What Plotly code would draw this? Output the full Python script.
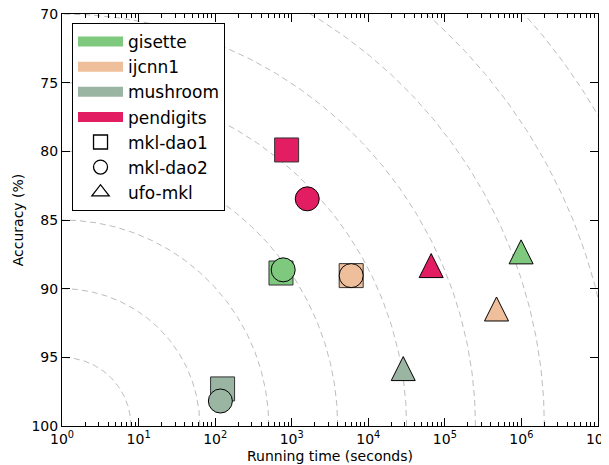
import numpy as np
import plotly.graph_objects as go

# ---- data ----
datasets = ["gisette", "ijcnn1", "mushroom", "pendigits"]
dataset_colors = ["#7fc97f", "#efbf9b", "#9bb5a3", "#e21d61"]
methods = ["mkl-dao1", "mkl-dao2", "ufo-mkl"]

time_dao1 = [724, 5980, 125, 858]
acc_dao1 = [88.86, 89.05, 97.3, 79.9]
time_dao2 = [774, 5980, 117, 1595]
acc_dao2 = [88.63, 89.05, 98.18, 83.46]
time_ufo = [991000, 473000, 28600, 66300]
acc_ufo = [87.32, 91.48, 95.82, 88.32]

x_tick_vals = [1, 10, 100, 1e3, 1e4, 1e5, 1e6, 1e7]
x_tick_text = ["10<sup>0</sup>", "10<sup>1</sup>", "10<sup>2</sup>", "10<sup>3</sup>",
               "10<sup>4</sup>", "10<sup>5</sup>", "10<sup>6</sup>", "10<sup>7</sup>"]
y_tick_vals = [70, 75, 80, 85, 90, 95, 100]

# guide arcs: step k -> (0.9k decades, 5k accuracy points)
arc_steps = list(range(1, 12))
arc_dx = 0.9
arc_dy = 5.0

font = "DejaVu Sans"
fig = go.Figure()

theta = np.linspace(0, np.pi / 2, 200)
for k in arc_steps:
    fig.add_trace(go.Scatter(
        x=10 ** (arc_dx * k * np.cos(theta)),
        y=100 - arc_dy * k * np.sin(theta),
        mode="lines", line=dict(color="#bdbdbd", width=1, dash="6px,4px"),
        showlegend=False, hoverinfo="skip"))

# data markers
fig.add_trace(go.Scatter(
    x=time_dao1, y=acc_dao1, mode="markers", showlegend=False, name="mkl-dao1",
    marker=dict(symbol="square", size=24, color=dataset_colors,
                line=dict(color="#333333", width=1))))
fig.add_trace(go.Scatter(
    x=time_dao2, y=acc_dao2, mode="markers", showlegend=False, name="mkl-dao2",
    marker=dict(symbol="circle", size=24, color=dataset_colors,
                line=dict(color="black", width=1))))
fig.add_trace(go.Scatter(
    x=time_ufo, y=acc_ufo, mode="markers", showlegend=False, name="ufo-mkl",
    marker=dict(symbol="arrow-down", angle=180, standoff=12, size=24, color=dataset_colors,
                line=dict(color="black", width=1))))

# legend entries
for name, col in zip(datasets, dataset_colors):
    fig.add_trace(go.Scatter(x=[None], y=[None], mode="lines", name=name,
                             line=dict(color=col, width=13)))
for name, sym in zip(methods, ["square-open", "circle-open", "triangle-up-open"]):
    fig.add_trace(go.Scatter(x=[None], y=[None], mode="markers", name=name,
                             marker=dict(symbol=sym, size=14 if sym != "triangle-up-open" else 15,
                                         color="black", line=dict(width=1.3))))

axis_common = dict(
    showline=True, linecolor="black", linewidth=1, mirror="allticks",
    ticks="inside", ticklen=8, tickwidth=1, tickcolor="black",
    showgrid=False, zeroline=False, automargin=False, ticklabeloverflow="allow",
    tickfont=dict(family=font, size=14, color="black"),
)

fig.update_xaxes(
    type="log", range=[-0.0005, 7.0005], tickmode="array", tickvals=x_tick_vals, ticktext=x_tick_text,
    minor=dict(ticks="inside", ticklen=4, tickcolor="black",
               tickvals=[m * 10 ** d for d in range(7) for m in range(2, 10)]),
    title=dict(text="Running time (seconds)", font=dict(family=font, size=14, color="black"),
               standoff=5),
    **axis_common)
fig.update_yaxes(
    range=[100, 70], tickmode="array", tickvals=y_tick_vals,
    title=dict(text="Accuracy (%)", font=dict(family=font, size=14, color="black"),
               standoff=4),
    **axis_common)

# page body adds an 8px offset; size the figure so the plot area lands where the reference has it
fig.update_layout(
    width=601, height=458,
    margin=dict(l=54, r=11, t=6, b=40),
    plot_bgcolor="white", paper_bgcolor="white",
    font=dict(family=font, color="black"),
    legend=dict(x=0.0187, y=0.978, xanchor="left", yanchor="top",
                bordercolor="black", borderwidth=1, bgcolor="white",
                font=dict(family=font, size=17, color="black"),
                tracegroupgap=0, itemwidth=45),
)

fig.write_html("out.html")
